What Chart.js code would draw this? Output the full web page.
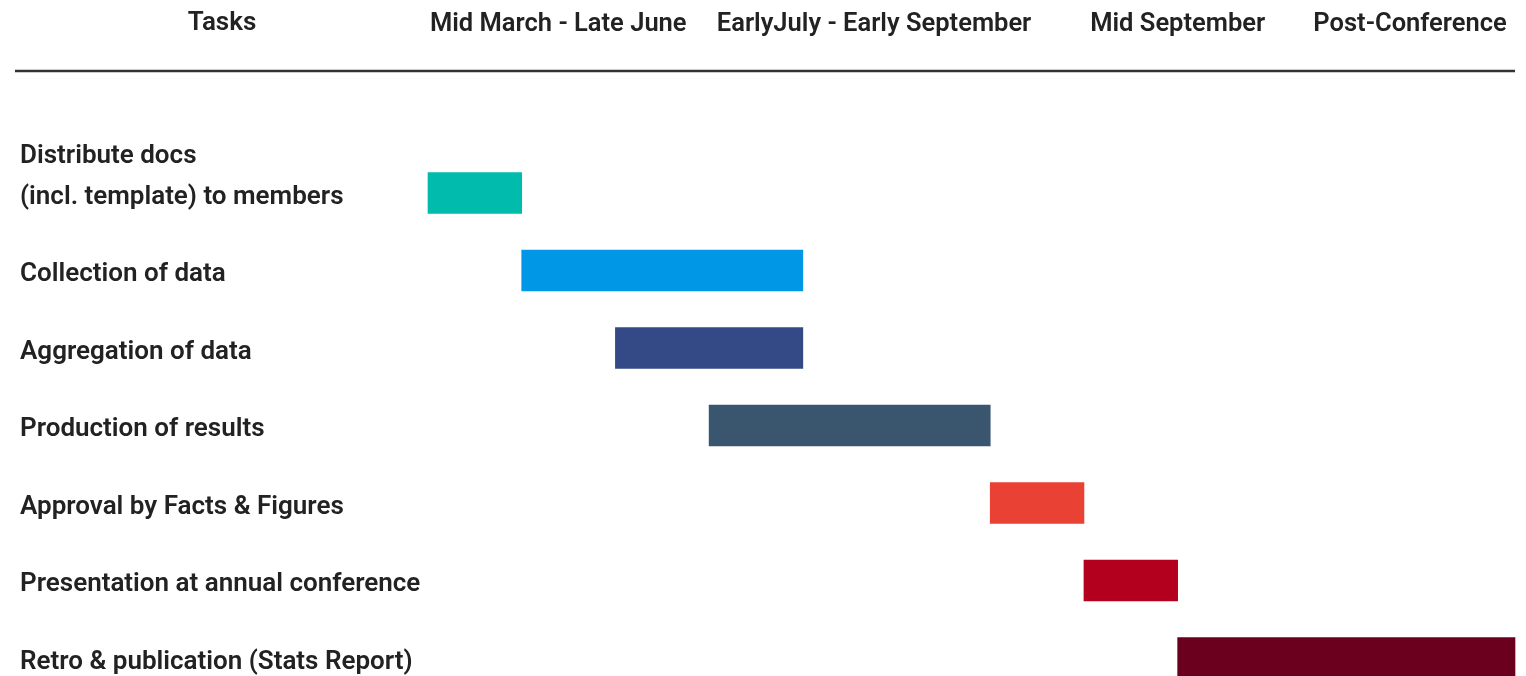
<!DOCTYPE html>
<html>
<head>
<meta charset="utf-8">
<title>Timeline</title>
<script src="https://cdn.jsdelivr.net/npm/chart.js@4"></script>
<style>
  body { margin: 0; background: #fff; }
  #wrap { width: 1526px; height: 676px; }
</style>
</head>
<body>
<div id="wrap"><canvas id="timeline"></canvas></div>
<script>
// Tasks and their start/end on the period scale (1 unit ~ one slot)
const tasks = [
  ["Distribute docs", "(incl. template) to members", ""],
  "Collection of data",
  "Aggregation of data",
  "Production of results",
  "Approval by Facts & Figures",
  "Presentation at annual conference",
  "Retro & publication (Stats Report)",
];
const taskStart = [0, 1, 2, 3, 6, 7, 8];
const taskEnd = [1, 4, 4, 6, 7, 8, 11.6];

// Period header labels and where they sit on the scale
const periodLabels = [
  "Mid March - Late June",
  "EarlyJuly - Early September",
  "Mid September",
  "Post-Conference",
];
const periodPos = [1.39, 4.76, 8.0, 10.48];

const barColors = [
  "#01bbad",
  "#0098e6",
  "#344a86",
  "#3a566f",
  "#e94133",
  "#b4001f",
  "#6b001e",
];

const fontFamily = "Roboto, 'Liberation Sans', sans-serif";

// Header line + "Tasks" title
const headerPlugin = {
  id: "header",
  afterDraw(chart) {
    const ctx = chart.ctx;
    ctx.save();
    ctx.strokeStyle = "#333";
    ctx.lineWidth = 2.5;
    ctx.beginPath();
    ctx.moveTo(15, 71);
    ctx.lineTo(chart.chartArea.right, 71);
    ctx.stroke();

    ctx.fillStyle = "#222";
    ctx.font = "600 26px " + fontFamily;
    ctx.textAlign = "center";
    ctx.textBaseline = "middle";
    ctx.fillText("Tasks", 222, 23);
    ctx.restore();
  },
};

const ctx = document.getElementById("timeline").getContext("2d");

new Chart(ctx, {
  type: "bar",
  data: {
    labels: tasks,
    datasets: [
      {
        data: taskStart.map((s, i) => [s, taskEnd[i]]),
        backgroundColor: barColors,
        borderWidth: 0,
        barThickness: 41,
        clip: false,
      },
    ],
  },
  options: {
    indexAxis: "y",
    responsive: true,
    maintainAspectRatio: false,
    animation: false,
    layout: {
      padding: { left: 20, right: 11, top: 0, bottom: 18 },
    },
    plugins: {
      legend: { display: false },
      tooltip: { enabled: false },
    },
    scales: {
      x: {
        type: "linear",
        position: "top",
        min: 0,
        max: 11.6,
        grid: { display: false, drawTicks: false },
        border: { display: false },
        afterBuildTicks: (scale) => {
          scale.ticks = periodPos.map((v) => ({ value: v }));
        },
        afterFit: (scale) => {
          scale.height = 193;
          scale.paddingLeft = 0;
          scale.paddingRight = 0;
        },
        ticks: {
          autoSkip: false,
          maxRotation: 0,
          padding: 153,
          color: "#222",
          font: { family: fontFamily, size: 25.5, weight: "600" },
          callback: (value, index) => periodLabels[index],
        },
      },
      y: {
        type: "category",
        offset: false,
        grid: { display: false, drawTicks: false },
        border: { display: false },
        afterFit: (scale) => {
          scale.width = 408;
          scale.paddingTop = 0;
          scale.paddingBottom = 0;
        },
        ticks: {
          autoSkip: false,
          crossAlign: "far",
          padding: 0,
          labelOffset: 4,
          color: "#222",
          font: { family: fontFamily, size: 26, weight: "600", lineHeight: "41px" },
        },
      },
    },
  },
  plugins: [headerPlugin],
});
</script>
</body>
</html>
